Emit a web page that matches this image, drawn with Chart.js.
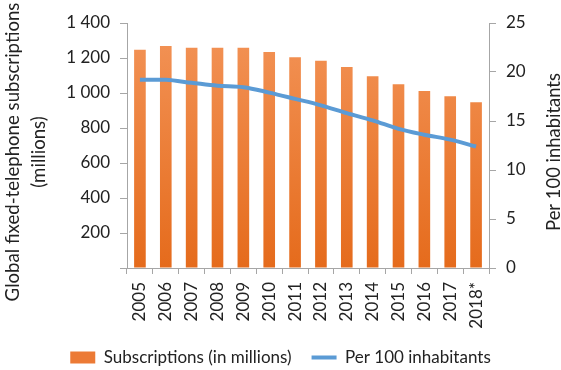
<!DOCTYPE html>
<html>
<head>
<meta charset="utf-8">
<script src="https://cdn.jsdelivr.net/npm/chart.js@4.4.1/dist/chart.umd.min.js"></script>
<style>
html,body{margin:0;padding:0;background:#fff;}
#wrap{width:561px;height:370px;position:relative;}
</style>
</head>
<body>
<div id="wrap"><canvas id="c" width="561" height="370"></canvas></div>
<script>
const categories = ['2005','2006','2007','2008','2009','2010','2011','2012','2013','2014','2015','2016','2017','2018*'];
const subscriptions = [1247, 1268, 1258, 1258, 1258, 1235, 1205, 1184, 1148, 1096, 1050, 1012, 981, 947];
const per100 = [19.2, 19.2, 18.9, 18.6, 18.45, 17.9, 17.26, 16.6, 15.8, 15.07, 14.2, 13.6, 13.1, 12.4];
const leftTicks = [0, 200, 400, 600, 800, 1000, 1200, 1400];
const rightTicks = [0, 5, 10, 15, 20, 25];
const leftTitle = ['Global fixed-telephone subscriptions', '(millions)'];
const rightTitle = 'Per 100 inhabitants';

const FONT = 'Lato';
const TXT = '#222222';
const AXIS = '#A6A6A6';

function barGradient(context) {
  const chart = context.chart;
  const area = chart.chartArea;
  if (!area) return '#EC7A35';
  const g = chart.ctx.createLinearGradient(0, area.top, 0, area.bottom);
  g.addColorStop(0, '#F39458');
  g.addColorStop(1, '#E56B1C');
  return g;
}

function fmt(v) {
  if (v === 0) return '';
  const s = String(v);
  return s.length > 3 ? s.slice(0, s.length - 3) + ' ' + s.slice(-3) : s;
}

const legendPlace = {
  id: 'legendPlace',
  beforeUpdate(chart) {
    const lg = chart.legend;
    if (lg && !lg._patched) {
      const orig = lg.fit;
      lg.fit = function () { orig.call(this); this.height = 37; };
      lg._patched = true;
    }
  },
  afterLayout(chart) {
    const lg = chart.legend;
    if (lg) { lg.top = 329; lg.bottom = 370; }
  }
};

function fitFont(ctx, text, target, base) {
  ctx.font = base + 'px ' + FONT;
  const w = ctx.measureText(text).width;
  return base * target / w;
}

// Axis titles, both reading bottom-to-top as in the reference
const axisTitles = {
  id: 'axisTitles',
  afterDraw(chart) {
    const ctx = chart.ctx;
    const ya = chart.scales.y, yb = chart.scales.y1;
    const cy = 152;
    ctx.save();
    ctx.fillStyle = TXT;
    ctx.textAlign = 'center';
    ctx.textBaseline = 'middle';
    const s1 = Math.min(19.5, fitFont(ctx, leftTitle[0], 299, 19));
    ctx.font = s1 + 'px ' + FONT;
    [[leftTitle[0], ya.left + 13], [leftTitle[1], ya.left + 39]].forEach(([t, x]) => {
      ctx.save(); ctx.translate(x, cy); ctx.rotate(-Math.PI / 2); ctx.fillText(t, 0, 0); ctx.restore();
    });
    const s2 = fitFont(ctx, rightTitle, 158, 18);
    ctx.font = s2 + 'px ' + FONT;
    ctx.save(); ctx.translate(yb.right - 7, cy); ctx.rotate(-Math.PI / 2); ctx.fillText(rightTitle, 0, 0); ctx.restore();
    ctx.restore();
  }
};

new Chart(document.getElementById('c'), {
  plugins: [legendPlace, axisTitles],
  data: {
    labels: categories,
    datasets: [
      {
        type: 'bar',
        label: 'Subscriptions (in millions)',
        data: subscriptions,
        yAxisID: 'y',
        backgroundColor: barGradient,
        borderWidth: 0,
        categoryPercentage: 1,
        barPercentage: 0.45,
        order: 2,
        pointStyle: 'rect'
      },
      {
        type: 'line',
        label: 'Per 100 inhabitants',
        data: per100,
        yAxisID: 'y1',
        borderColor: '#5B9BD5',
        backgroundColor: '#5B9BD5',
        borderWidth: 4,
        pointRadius: 0,
        tension: 0.35,
        fill: false,
        order: 1,
        pointStyle: 'line'
      }
    ]
  },
  options: {
    responsive: false,
    animation: false,
    devicePixelRatio: 1,
    layout: { padding: { top: 23, bottom: 0, left: 0, right: 0 } },
    plugins: {
      tooltip: { enabled: false },
      legend: {
        position: 'bottom',
        labels: {
          usePointStyle: true,
          pointStyleWidth: 25,
          boxHeight: 12,
          padding: 20,
          color: TXT,
          font: { family: FONT, size: 17 },
          sort: (a, b) => a.datasetIndex - b.datasetIndex,
          generateLabels(chart) {
            const items = Chart.defaults.plugins.legend.labels.generateLabels(chart);
            items.forEach(it => {
              if (it.datasetIndex === 0) { it.fillStyle = '#EC7A35'; it.strokeStyle = '#EC7A35'; it.lineWidth = 0; }
              else { it.lineWidth = 4; it.strokeStyle = '#5B9BD5'; }
            });
            return items;
          }
        }
      }
    },
    scales: {
      x: {
        offset: true,
        grid: { display: true, drawOnChartArea: false, drawTicks: true, tickLength: 6, color: AXIS, offset: true },
        border: { display: true, color: AXIS },
        ticks: { color: TXT, font: { family: FONT, size: 17 }, minRotation: 90, maxRotation: 90, autoSkip: false, padding: 8 },
        afterFit(s) { s.height = 65; }
      },
      y: {
        position: 'left',
        min: 0, max: 1400,
        afterBuildTicks(s) { s.ticks = leftTicks.map(v => ({ value: v })); },
        grid: { display: true, drawOnChartArea: false, drawTicks: true, tickLength: 7, color: AXIS },
        border: { display: true, color: AXIS },
        ticks: { color: TXT, font: { family: FONT, size: 17 }, padding: 10, callback: v => fmt(v) },
        title: { display: false },
        afterFit(s) { s.width = 127; }
      },
      y1: {
        position: 'right',
        min: 0, max: 25,
        afterBuildTicks(s) { s.ticks = rightTicks.map(v => ({ value: v })); },
        grid: { display: true, drawOnChartArea: false, drawTicks: true, tickLength: 7, color: AXIS },
        border: { display: true, color: AXIS },
        ticks: { color: TXT, font: { family: FONT, size: 17 }, padding: 10 },
        title: { display: false },
        afterFit(s) { s.width = 72; }
      }
    }
  }
});
</script>
</body>
</html>
